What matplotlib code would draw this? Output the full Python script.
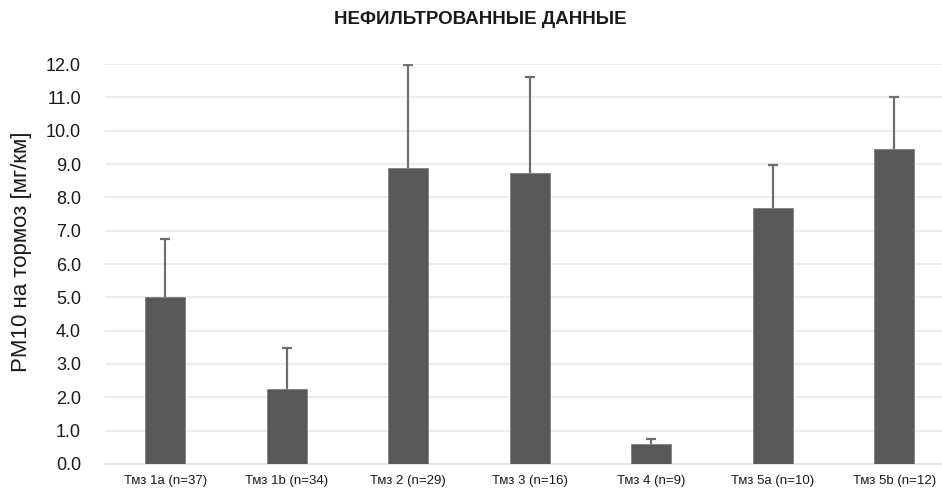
import matplotlib
matplotlib.use("Agg")
import matplotlib.pyplot as plt
import numpy as np

categories = ["Тмз 1a (n=37)", "Тмз 1b (n=34)", "Тмз 2 (n=29)", "Тмз 3 (n=16)",
              "Тмз 4 (n=9)", "Тмз 5a (n=10)", "Тмз 5b (n=12)"]
means = [5.0, 2.25, 8.88, 8.73, 0.61, 7.68, 9.45]
upper_err = [1.75, 1.23, 3.09, 2.88, 0.13, 1.29, 1.55]
yticks = [0.0, 1.0, 2.0, 3.0, 4.0, 5.0, 6.0, 7.0, 8.0, 9.0, 10.0, 11.0, 12.0]

plt.rcParams['font.family'] = ['Liberation Sans', 'DejaVu Sans']
narrow = ['Liberation Sans Narrow', 'Liberation Sans', 'DejaVu Sans']

fig = plt.figure(figsize=(9.42, 4.95), dpi=100)
W, H = 942, 495
left, right, top, bottom = 104.5, 955, 64, 464
ax = fig.add_axes([left / W, 1 - bottom / H, (right - left) / W, (bottom - top) / H])

x = np.arange(len(categories))
ax.bar(x, means, width=0.33, color="#595959", edgecolor="#7f7f7f", linewidth=0.6, zorder=3)
_, caps, _ = ax.errorbar(x, means, yerr=[np.zeros(len(means)), upper_err], fmt="none",
                         ecolor="#6f6f6f", elinewidth=1.6, capsize=3.5, capthick=1.6,
                         zorder=4)
# only the upper whisker is shown
caps[0].set_visible(False)

ax.set_xlim(-0.5, len(categories) - 0.5)
ax.set_ylim(0, 12)
ax.set_yticks(yticks)
ax.set_yticklabels([f"{v:.1f}" for v in yticks], fontsize=13, color="#1a1a1a")
ax.set_xticks(x)
ax.set_xticklabels(categories, fontsize=9.5, color="#1a1a1a", family=narrow)
ax.tick_params(axis="both", length=0)
ax.tick_params(axis="x", pad=8)
ax.tick_params(axis="y", pad=17)

ax.grid(axis="y", color="#ececec", linewidth=1.3, zorder=0)
for s in ["top", "right", "left"]:
    ax.spines[s].set_visible(False)
ax.spines["bottom"].set_color("#e6e6e6")
ax.spines["bottom"].set_linewidth(1.3)

fig.text(22 / W, 1 - 252 / H, "PM10 на тормоз [мг/км]", rotation=90, ha="center",
         va="center", fontsize=16, color="#1a1a1a")

fig.text(480 / W, 1 - 20 / H, "НЕФИЛЬТРОВАННЫЕ ДАННЫЕ", ha="center", va="center",
         fontsize=13.5, fontweight="bold", color="#1a1a1a", family=narrow)

fig.savefig("out.png", dpi=100)
